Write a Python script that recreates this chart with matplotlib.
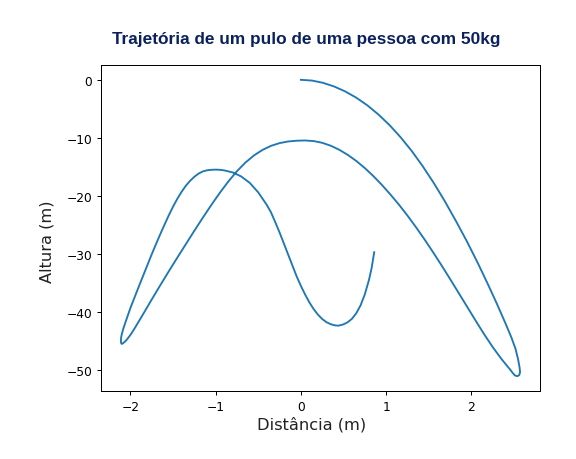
import matplotlib
matplotlib.use("Agg")
import matplotlib.pyplot as plt

# Trajectory points (x = distance m, y = height m)
distancia = [
    # first descent to the right
    0.0, 0.13, 0.26, 0.39, 0.52, 0.65, 0.78, 0.91, 1.04, 1.17,
    1.30, 1.43, 1.56, 1.69, 1.82, 1.95, 2.08, 2.20, 2.30, 2.40,
    2.47, 2.518, 2.547, 2.565, 2.571, 2.562, 2.54, 2.51, 2.485, 2.46,
    # way back up to the top of the second arc
    2.42, 2.35, 2.25, 2.15, 2.05, 1.95, 1.85, 1.75, 1.65, 1.55,
    1.45, 1.35, 1.25, 1.15, 1.05, 0.95, 0.85, 0.75, 0.65, 0.55,
    0.45, 0.35, 0.25, 0.15, 0.05,
    # down to the left tip
    -0.05, -0.15, -0.25, -0.35, -0.45, -0.55, -0.65, -0.75, -0.85, -0.95,
    -1.05, -1.15, -1.25, -1.35, -1.45, -1.55, -1.65, -1.75, -1.85, -1.95,
    -2.0, -2.05, -2.08, -2.095, -2.106, -2.111, -2.111, -2.108, -2.10, -2.085,
    -2.065, -2.04, -2.0,
    # up to the small hump, then the final bowl
    -1.95, -1.90, -1.85, -1.80, -1.75, -1.70, -1.65, -1.60, -1.55, -1.50,
    -1.45, -1.40, -1.35, -1.30, -1.25, -1.20, -1.15, -1.10, -1.05, -1.0,
    -0.95, -0.90, -0.80, -0.70, -0.60, -0.50, -0.40, -0.35, -0.30, -0.25,
    -0.20, -0.15, -0.10, -0.05, 0.0, 0.05, 0.10, 0.15, 0.20, 0.25,
    0.30, 0.35, 0.40, 0.44, 0.50, 0.55, 0.60, 0.65, 0.70, 0.75,
    0.80, 0.83, 0.86,
]
altura = [
    0.0, -0.13, -0.52, -1.15, -2.0, -3.08, -4.4, -5.98, -7.8, -9.9,
    -12.25, -14.9, -17.8, -20.95, -24.35, -27.9, -31.7, -35.4, -38.6, -41.95,
    -44.4, -46.35, -48.07, -49.5, -50.35, -50.85, -51.05, -50.92, -50.5, -50.0,
    -49.3, -48.03, -46.03, -43.83, -41.48, -39.08, -36.68, -34.3, -31.96, -29.68,
    -27.48, -25.38, -23.38, -21.5, -19.75, -18.1, -16.58, -15.2, -13.98, -12.93,
    -12.05, -11.35, -10.85, -10.55, -10.45,
    -10.49, -10.62, -10.9, -11.37, -12.07, -13.02, -14.24, -15.74, -17.49, -19.44,
    -21.54, -23.74, -26.0, -28.3, -30.63, -32.99, -35.39, -37.84, -40.34, -42.8,
    -43.95, -44.9, -45.3, -45.47, -45.45, -45.2, -44.8, -44.3, -43.75, -42.95,
    -42.05, -41.0, -39.3,
    -37.4, -35.55, -33.7, -31.85, -30.05, -28.3, -26.6, -24.95, -23.35, -21.85,
    -20.5, -19.3, -18.25, -17.4, -16.7, -16.15, -15.78, -15.58, -15.5, -15.47,
    -15.5, -15.6, -15.95, -16.65, -17.75, -19.4, -21.55, -22.85, -24.55, -26.3,
    -28.2, -30.15, -32.05, -33.85, -35.5, -37.0, -38.35, -39.5, -40.45, -41.2,
    -41.75, -42.1, -42.3, -42.35, -42.12, -41.75, -41.15, -40.2, -38.85, -36.95,
    -34.4, -32.4, -29.7,
]

titulo = "Trajetória de um pulo de uma pessoa com 50kg"
rotulo_x = "Distância (m)"
rotulo_y = "Altura (m)"

fig = plt.figure(figsize=(6.4, 460 / 90), dpi=90)
ax = fig.add_axes([101 / 576, 68 / 460, 439 / 576, 326 / 460])
ax.plot(distancia, altura, color="#1f77b4", linewidth=1.5)

ax.set_xticks([-2, -1, 0, 1, 2])
ax.set_yticks([0, -10, -20, -30, -40, -50])
ax.tick_params(labelsize=9.8)

ax.set_xlabel(rotulo_x, fontsize=13, color="#222222")
ax.set_ylabel(rotulo_y, fontsize=13, color="#222222")
ax.xaxis.set_label_coords((312 - 101) / 439, -(417 - 392) / 326)
ax.yaxis.set_label_coords(-(101 - 55) / 439, (392 - 242) / 326)

fig.text(306 / 576, 1 - 40 / 460, titulo, ha="center", va="center",
         fontsize=13.8, fontweight="bold", color="#0b215e",
         family=["Liberation Sans", "DejaVu Sans"])

fig.savefig("out.png", dpi=90)
